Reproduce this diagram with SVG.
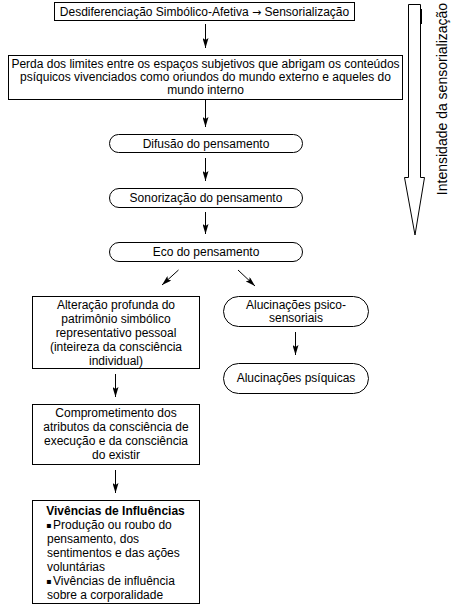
<svg xmlns="http://www.w3.org/2000/svg" width="452" height="605" viewBox="0 0 452 605">
<defs>
<style>
.box{fill:#fff;stroke:#000;stroke-width:1}
.t{font-family:"Liberation Sans",Arial,sans-serif;font-size:12px;fill:#000;text-anchor:middle}
.tl{font-family:"Liberation Sans",Arial,sans-serif;font-size:12px;fill:#000}
.b{font-weight:bold}
.c{stroke:#000;stroke-width:1;fill:none;marker-end:url(#ah)}
</style>
<marker id="ah" viewBox="0 0 10 6" refX="10" refY="3" markerWidth="10" markerHeight="6" markerUnits="userSpaceOnUse" orient="auto">
<path d="M0,0 L10,3 L0,6 L2,3 z" fill="#000"/>
</marker>
</defs>
<rect width="452" height="605" fill="#fff"/>

<g id="n1">
<rect class="box" x="54.5" y="2.5" width="300" height="18"/>
<text class="t" x="204.5" y="16">Desdiferenciação Simbólico-Afetiva <tspan font-family="DejaVu Sans,sans-serif" font-size="11">→</tspan> Sensorialização</text>
</g>

<g id="n2">
<rect class="box" x="8.5" y="55.5" width="394" height="44"/>
<text class="t" x="205.5" y="68">Perda dos limites entre os espaços subjetivos que abrigam os conteúdos</text>
<text class="t" x="205.5" y="81">psíquicos vivenciados como oriundos do mundo externo e aqueles do</text>
<text class="t" x="205.5" y="94">mundo interno</text>
</g>

<g id="n3">
<rect class="box" x="109.5" y="134.5" width="193" height="18" rx="9"/>
<text class="t" x="206" y="147.5">Difusão do pensamento</text>
</g>

<g id="n4">
<rect class="box" x="109.5" y="188.5" width="193" height="19" rx="9.5"/>
<text class="t" x="206" y="202">Sonorização do pensamento</text>
</g>

<g id="n5">
<rect class="box" x="109.5" y="242.5" width="193" height="19" rx="9.5"/>
<text class="t" x="206" y="256">Eco do pensamento</text>
</g>

<g id="n6">
<rect class="box" x="32.5" y="296.5" width="167" height="72"/>
<text class="t" x="116" y="308.5">Alteração profunda do</text>
<text class="t" x="116" y="322.5">patrimônio simbólico</text>
<text class="t" x="116" y="336.5">representativo pessoal</text>
<text class="t" x="116" y="350.5">(inteireza da consciência</text>
<text class="t" x="116" y="364.5">individual)</text>
</g>

<g id="n7">
<rect class="box" x="223.5" y="296.5" width="145" height="30" rx="15"/>
<text class="t" x="296" y="308.5">Alucinações psico-</text>
<text class="t" x="296" y="322">sensoriais</text>
</g>

<g id="n8">
<rect class="box" x="223.5" y="363.5" width="145" height="30" rx="15"/>
<text class="t" x="296" y="382">Alucinações psíquicas</text>
</g>

<g id="n9">
<rect class="box" x="32.5" y="404.5" width="167" height="60"/>
<text class="t" x="116" y="416.5">Comprometimento dos</text>
<text class="t" x="116" y="430.5">atributos da consciência de</text>
<text class="t" x="116" y="444.5">execução e da consciência</text>
<text class="t" x="116" y="458.5">do existir</text>
</g>

<g id="n10">
<rect class="box" x="32.5" y="500.5" width="167" height="103"/>
<text class="t b" x="115.5" y="514.5">Vivências de Influências</text>
<text x="46" y="527.5" font-family="DejaVu Sans,sans-serif" font-size="8">▪</text>
<text class="tl" x="53" y="528.5">Produção ou roubo do</text>
<text class="tl" x="47" y="542.5">pensamento, dos</text>
<text class="tl" x="47" y="556.5">sentimentos e das ações</text>
<text class="tl" x="47" y="570.5">voluntárias</text>
<text x="46" y="583.5" font-family="DejaVu Sans,sans-serif" font-size="8">▪</text>
<text class="tl" x="53" y="584.5">Vivências de influência</text>
<text class="tl" x="47" y="598.5">sobre a corporalidade</text>
</g>

<g id="scale">
<polygon points="408.5,4.5 420.5,4.5 420.5,177.5 424.5,177.5 415,235 404.5,177.5 408.5,177.5" fill="#fff" stroke="#000" stroke-width="1"/>
<rect x="420" y="9" width="2" height="15" fill="#000"/>
<text class="t" style="font-size:14px" transform="translate(447,99) rotate(-90)">Intensidade da sensorialização</text>
</g>

<g id="connectors">
<line class="c" x1="205.5" y1="24" x2="205.5" y2="48"/>
<line class="c" x1="205.5" y1="100" x2="205.5" y2="127"/>
<line class="c" x1="205.5" y1="158" x2="205.5" y2="181"/>
<line class="c" x1="205.5" y1="212" x2="205.5" y2="234"/>
<line class="c" x1="178.5" y1="270" x2="162" y2="285"/>
<line class="c" x1="238" y1="270" x2="255" y2="286"/>
<line class="c" x1="295.5" y1="332" x2="295.5" y2="355"/>
<line class="c" x1="115.5" y1="374" x2="115.5" y2="397"/>
<line class="c" x1="115.5" y1="470" x2="115.5" y2="493"/>
</g>
</svg>
